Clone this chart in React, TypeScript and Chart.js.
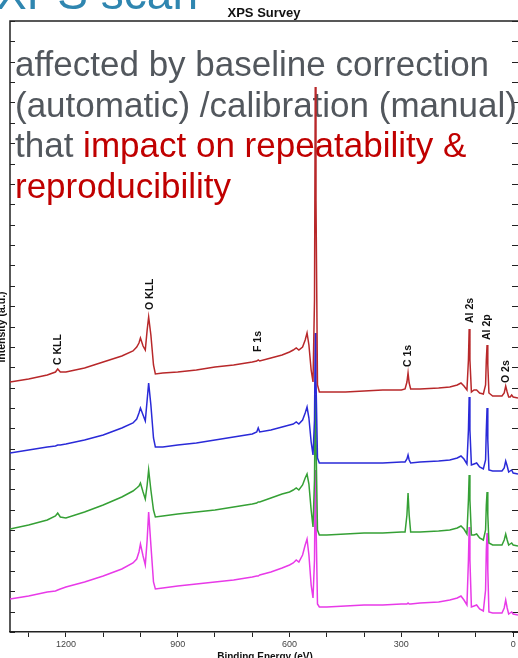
import React, { useEffect, useRef } from "react";
import { Chart, registerables } from "chart.js";

Chart.register(...registerables);

// Binding energy grid (eV)
const ENERGY = [
  1350, 1300, 1250, 1228, 1222, 1215, 1200, 1150, 1100, 1050, 1020, 1010, 1004, 1000, 993, 987, 982, 978, 972, 965,
  960, 940, 900, 850, 800, 750, 700, 688, 684, 680, 650, 620, 600, 590, 582, 575, 565, 558, 553, 548,
  542, 537, 533, 531, 529, 525, 520, 500, 450, 400, 350, 300, 290, 285, 282, 279, 275, 250, 200, 170,
  150, 140, 132, 124, 120, 118, 116, 112, 105, 98, 90, 80, 74, 72, 70, 68, 65, 55, 40, 30,
  24, 20, 16, 12, 8, 4, 0, -13,
];

// Intensity (a.u.), four offset spectra
const RED = [
  250, 253, 257, 260, 263, 260, 260, 264, 270, 276, 281, 285, 289, 294, 286, 282, 302, 315, 297, 267,
  258, 259, 260, 262, 265, 267, 270, 271, 272, 271, 274, 277, 280, 282, 284, 282, 285, 292, 299, 287,
  262, 250, 332, 545, 432, 247, 240, 240, 240, 241, 242, 242, 243, 250, 259, 249, 243, 243, 244, 245,
  247, 249, 246, 242, 272, 303, 272, 240, 242, 242, 239, 238, 247, 272, 287, 267, 239, 236, 236, 236,
  239, 246, 240, 235, 235, 237, 235, 234,
];
const BLUE = [
  179, 182, 185, 186, 187, 187, 188, 192, 197, 204, 209, 213, 219, 224, 217, 211, 232, 249, 227, 194,
  185, 185, 187, 189, 192, 195, 198, 200, 204, 200, 202, 205, 207, 208, 210, 208, 212, 219, 225, 214,
  190, 177, 212, 299, 252, 174, 169, 169, 169, 169, 169, 170, 170, 173, 177, 172, 169, 170, 171, 172,
  174, 176, 173, 168, 202, 235, 202, 167, 168, 169, 165, 163, 172, 202, 224, 192, 162, 161, 161, 161,
  164, 171, 166, 160, 161, 162, 159, 158,
];
const GREEN = [
  103, 107, 112, 116, 119, 115, 114, 120, 127, 135, 141, 144, 146, 149, 140, 133, 147, 162, 142, 122,
  115, 116, 118, 120, 122, 125, 128, 129, 130, 130, 134, 138, 140, 142, 144, 142, 147, 154, 158, 148,
  122, 105, 152, 237, 192, 102, 97, 97, 98, 99, 99, 100, 100, 117, 139, 117, 100, 100, 101, 102,
  104, 106, 103, 98, 132, 157, 132, 97, 97, 98, 94, 92, 102, 127, 140, 117, 89, 87, 87, 87,
  92, 98, 92, 87, 88, 89, 87, 86,
];
const PINK = [
  33, 36, 40, 41, 42, 43, 45, 50, 56, 63, 69, 73, 80, 88, 76, 67, 92, 120, 87, 50,
  43, 44, 46, 48, 50, 52, 55, 56, 56, 57, 60, 64, 67, 69, 72, 70, 77, 87, 93, 77,
  47, 34, 72, 162, 112, 28, 25, 25, 26, 27, 27, 28, 28, 28, 29, 28, 28, 29, 30, 32,
  34, 36, 32, 27, 72, 105, 72, 25, 26, 27, 23, 21, 42, 82, 99, 62, 20, 19, 19, 19,
  24, 32, 24, 18, 19, 20, 18, 17,
];

// Peak labels: text, energy (eV), intensity at label start
const PEAK_NAMES = ["C KLL", "O KLL", "F 1s", "C 1s", "Al 2s", "Al 2p", "O 2s"];
const PEAK_ENERGY = [1221, 974, 684, 282, 115, 70, 19];
const PEAK_LEVEL = [267, 322, 280, 265, 309, 292, 249];

const X_TICK_LABELS = [1200, 900, 600, 300, 0];
const Y_MAX = 611;
const Y_TICK_COUNT = 30;

const FONT = '"Liberation Sans", Arial, Helvetica, sans-serif';

const overlayPlugin = {
  id: "overlay",
  beforeDatasetsDraw(chart: any) {
    const ctx = chart.ctx as CanvasRenderingContext2D;
    const { left, top, right, bottom } = chart.chartArea;
    const xs = chart.scales.x;
    const ys = chart.scales.y;
    ctx.save();

    // big heading (cut at top)
    ctx.fillStyle = "#2f86b0";
    ctx.font = `46px ${FONT}`;
    ctx.textAlign = "left";
    ctx.textBaseline = "alphabetic";
    ctx.fillText("XPS scan", -4, 9);

    // chart title
    ctx.fillStyle = "#111";
    ctx.font = `bold 13px ${FONT}`;
    ctx.textAlign = "center";
    ctx.fillText("XPS Survey", (left + right) / 2, 17);

    // frame
    ctx.strokeStyle = "#222";
    ctx.lineWidth = 1.5;
    ctx.beginPath();
    ctx.moveTo(left, bottom);
    ctx.lineTo(left, top);
    ctx.lineTo(right, top);
    ctx.stroke();

    // y ticks (inward, both sides)
    ctx.lineWidth = 1;
    ctx.beginPath();
    for (let i = 0; i <= Y_TICK_COUNT; i++) {
      const y = Math.round(ys.getPixelForValue((i * Y_MAX) / Y_TICK_COUNT)) + 0.5;
      ctx.moveTo(left, y);
      ctx.lineTo(left + 5, y);
      ctx.moveTo(right - 6, y);
      ctx.lineTo(right, y);
    }
    ctx.stroke();

    // y axis title (cut at left)
    ctx.save();
    ctx.translate(4.5, 327);
    ctx.rotate(-Math.PI / 2);
    ctx.fillStyle = "#111";
    ctx.font = `bold 10.5px ${FONT}`;
    ctx.textAlign = "center";
    ctx.textBaseline = "alphabetic";
    ctx.fillText("Intensity (a.u.)", 0, 0);
    ctx.restore();

    // x axis title (cut at bottom)
    ctx.fillStyle = "#111";
    ctx.font = `bold 10px ${FONT}`;
    ctx.textAlign = "center";
    ctx.textBaseline = "alphabetic";
    ctx.fillText("Binding Energy (eV)", 265, 660);

    // peak labels
    ctx.font = `bold 10.5px ${FONT}`;
    ctx.fillStyle = "#111";
    for (let i = 0; i < PEAK_NAMES.length; i++) {
      const px = xs.getPixelForValue(PEAK_ENERGY[i]);
      const py = ys.getPixelForValue(PEAK_LEVEL[i]);
      ctx.save();
      ctx.translate(px, py);
      ctx.rotate(-Math.PI / 2);
      ctx.textAlign = "left";
      ctx.textBaseline = "middle";
      ctx.fillText(PEAK_NAMES[i], 0, 0);
      ctx.restore();
    }

    // slide text overlay
    ctx.font = `35px ${FONT}`;
    ctx.textAlign = "left";
    ctx.textBaseline = "alphabetic";
    const gray = "#52575d";
    const red = "#c00000";
    ctx.fillStyle = gray;
    ctx.fillText("affected by baseline correction", 15, 76);
    ctx.fillText("(automatic) /calibration (manual)", 15, 116.5);
    ctx.fillText("that ", 15, 157);
    const w = ctx.measureText("that ").width;
    ctx.fillStyle = red;
    ctx.fillText("impact on repeatability &", 15 + w, 157);
    ctx.fillText("reproducibility", 15, 197.5);

    ctx.restore();
  },
};

export default function App() {
  const ref = useRef<HTMLCanvasElement>(null);
  useEffect(() => {
    if (!ref.current) return;
    const mk = (vals: number[]) => ENERGY.map((e, i) => ({ x: e, y: vals[i] }));
    const ds = (label: string, vals: number[], color: string) => ({
      label,
      data: mk(vals),
      borderColor: color,
      backgroundColor: color,
      borderWidth: 1.5,
      pointRadius: 0,
      tension: 0,
      fill: false,
    });
    const chart = new Chart(ref.current, {
      type: "line",
      data: {
        datasets: [
          ds("Sample 1", RED, "#b8282a"),
          ds("Sample 2", BLUE, "#2a2ad8"),
          ds("Sample 3", GREEN, "#35a035"),
          ds("Sample 4", PINK, "#e83ae8"),
        ],
      },
      options: {
        responsive: false,
        animation: false,
        layout: { padding: { left: 10, top: 21, right: 0, bottom: 0 } },
        plugins: { legend: { display: false }, tooltip: { enabled: false }, title: { display: false } },
        scales: {
          x: {
            type: "linear",
            reverse: true,
            min: -13,
            max: 1350,
            afterFit: (s: any) => {
              s.height = 26;
            },
            ticks: {
              stepSize: 100,
              includeBounds: false,
              autoSkip: false,
              maxRotation: 0,
              padding: 2,
              color: "#444",
              font: { family: FONT, size: 9 },
              callback: (v: any) => (X_TICK_LABELS.includes(Number(v)) ? String(v) : ""),
            },
            grid: { drawOnChartArea: false, drawTicks: true, tickLength: 5, color: "#222", lineWidth: 1 },
            border: { display: true, color: "#222", width: 1.5 },
          },
          y: { display: false, min: 0, max: Y_MAX },
        },
      },
      plugins: [overlayPlugin],
    });
    return () => chart.destroy();
  }, []);
  return (
    <div style={{ position: "absolute", left: 0, top: 0, width: 518, height: 658 }}>
      <canvas ref={ref} width={518} height={658} />
    </div>
  );
}
